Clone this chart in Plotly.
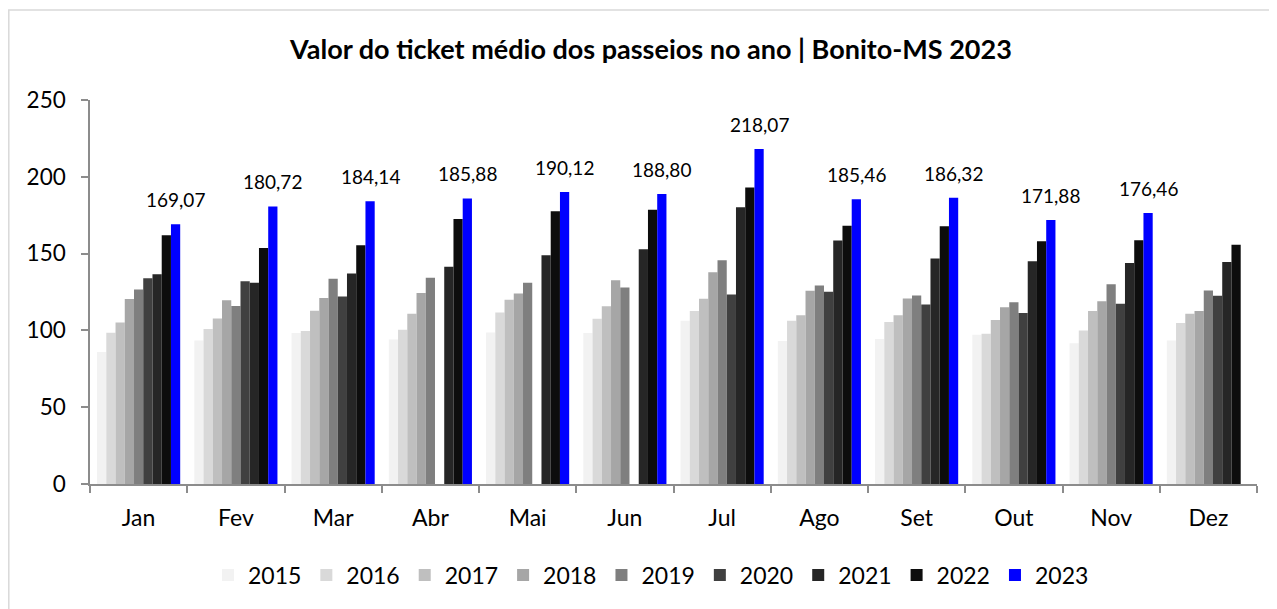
import plotly.graph_objects as go

months = ["Jan", "Fev", "Mar", "Abr", "Mai", "Jun", "Jul", "Ago", "Set", "Out", "Nov", "Dez"]
years = ["2015", "2016", "2017", "2018", "2019", "2020", "2021", "2022", "2023"]

v2015 = [85.9, 93.5, 98.3, 94.1, 98.7, 98.3, 106.3, 93.1, 94.4, 97.2, 91.7, 93.5]
v2016 = [98.5, 100.9, 99.6, 100.4, 111.7, 107.6, 112.6, 106.3, 105.4, 97.8, 100.0, 104.8]
v2017 = [105.2, 107.8, 112.8, 110.9, 120.0, 115.7, 120.6, 109.8, 109.8, 106.7, 112.6, 110.9]
v2018 = [120.4, 119.6, 121.1, 124.3, 124.1, 132.6, 137.9, 125.8, 120.8, 115.0, 118.9, 112.6]
v2019 = [126.7, 115.9, 133.7, 134.3, 131.1, 128.0, 145.7, 129.3, 122.8, 118.3, 130.0, 125.9]
v2020 = [133.9, 132.0, 122.0, None, None, None, 123.4, 125.1, 116.9, 111.3, 117.4, 122.6]
v2021 = [136.5, 131.1, 137.0, 141.5, 148.9, 152.8, 180.1, 158.5, 146.8, 145.0, 143.9, 144.6]
v2022 = [162.0, 153.7, 155.4, 172.6, 177.6, 178.5, 193.1, 168.2, 167.8, 158.0, 158.7, 155.7]
v2023 = [169.07, 180.72, 184.14, 185.88, 190.12, 188.80, 218.07, 185.46, 186.32, 171.88, 176.46, None]

series = [v2015, v2016, v2017, v2018, v2019, v2020, v2021, v2022, v2023]
colors = ["#F2F2F2", "#D9D9D9", "#BFBFBF", "#A6A6A6", "#7F7F7F", "#404040", "#262626", "#0D0D0D", "#0000FF"]

FONT = "Lato"

fig = go.Figure()
for yr, vals, col in zip(years, series, colors):
    fig.add_trace(go.Bar(name=yr, x=months, y=vals, marker=dict(color=col, line=dict(width=0)),
                         hoverinfo="x+y+name"))

# page is rendered with an 8px body margin, so figure coords = page coords - 8
L, R, T, B = 82, 28, 92, 133
W, H = 1277, 609
pw = W - L - R
ph = H - T - B
BARGAP = 0.145

# offset (px) of the 2023 bar centre from its category centre
cat_w = pw / len(months)
bar_w = cat_w * (1 - BARGAP) / len(years)
off_2023 = (len(years) - 1) / 2 * bar_w

for m, v in zip(months, v2023):
    if v is None:
        continue
    fig.add_annotation(x=m, y=v, xref="x", yref="y", text=f"{v:.2f}".replace(".", ","),
                       showarrow=False, xanchor="center", yanchor="bottom",
                       xshift=off_2023, yshift=11,
                       font=dict(family=FONT, size=19, color="#000000"))

fig.update_layout(
    width=W, height=H,
    margin=dict(l=L, r=R, t=T, b=B, autoexpand=False),
    paper_bgcolor="white", plot_bgcolor="white",
    barmode="group", bargap=BARGAP, bargroupgap=0,
    font=dict(family=FONT, color="#000000"),
    title=dict(text="<b>Valor do ticket médio dos passeios no ano | Bonito-MS 2023</b>",
               x=0.5035, xanchor="center", y=1 - 42 / H, yanchor="middle",
               font=dict(family=FONT, size=27, color="#000000")),
    xaxis=dict(showline=True, linecolor="#8C8C8C", linewidth=1.5, ticks="outside",
               tickson="boundaries", ticklen=7, tickcolor="#8C8C8C", tickwidth=1.5,
               tickfont=dict(family=FONT, size=23, color="#000000"), ticklabelstandoff=13,
               showgrid=False, zeroline=False, automargin=False),
    yaxis=dict(range=[0, 250], dtick=50, showline=True, linecolor="#8C8C8C", linewidth=1.5,
               ticks="outside", ticklen=7, tickcolor="#8C8C8C", tickwidth=1.5,
               tickfont=dict(family=FONT, size=22.5, color="#000000"), ticklabelstandoff=11,
               showgrid=False, zeroline=False, automargin=False),
    legend=dict(orientation="h", x=0.5035, xref="container", xanchor="center",
                y=(H - 567) / H, yref="container", yanchor="middle",
                font=dict(family=FONT, size=23, color="#000000"),
                itemwidth=30, traceorder="normal", tracegroupgap=0),
    showlegend=True,
)

# light outer chart border
fig.add_shape(type="rect", xref="paper", yref="paper",
              x0=(0.8 - L) / pw, x1=(W + 5 - L) / pw,
              y0=-(H + 5 - (T + ph)) / ph, y1=(T + ph - 2) / ph,
              line=dict(color="#D9D9D9", width=1.5), fillcolor="rgba(0,0,0,0)", layer="below")

fig.write_html("out.html")
